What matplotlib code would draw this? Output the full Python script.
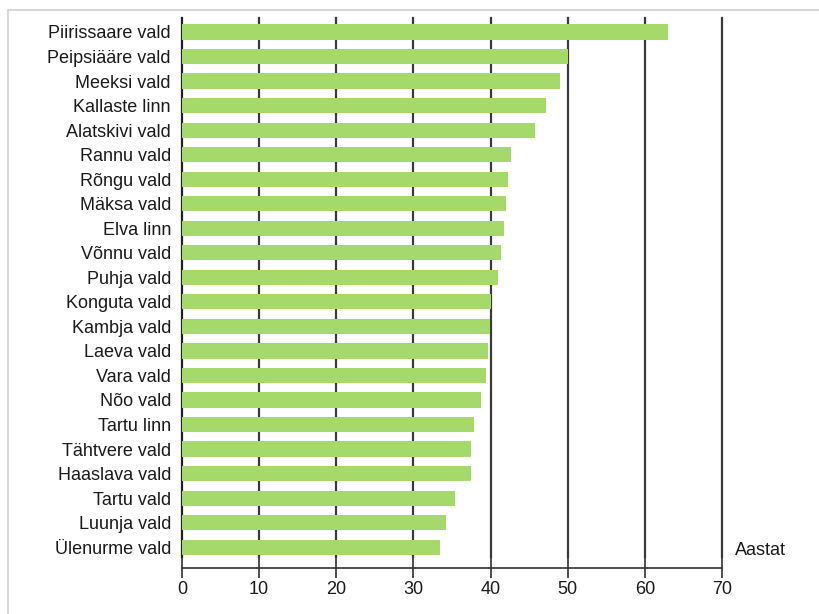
import matplotlib
matplotlib.use("Agg")
import matplotlib.pyplot as plt
from matplotlib.patches import Rectangle

plt.rcParams['font.family'] = ['Liberation Sans', 'DejaVu Sans']

categories = ["Piirissaare vald", "Peipsiääre vald", "Meeksi vald", "Kallaste linn",
              "Alatskivi vald", "Rannu vald", "Rõngu vald", "Mäksa vald", "Elva linn",
              "Võnnu vald", "Puhja vald", "Konguta vald", "Kambja vald", "Laeva vald",
              "Vara vald", "Nõo vald", "Tartu linn", "Tähtvere vald", "Haaslava vald",
              "Tartu vald", "Luunja vald", "Ülenurme vald"]
values = [63.0, 50.0, 49.0, 47.2, 45.8, 42.6, 42.2, 42.0, 41.8, 41.4, 41.0, 40.1,
          39.9, 39.7, 39.4, 38.8, 37.9, 37.4, 37.5, 35.4, 34.2, 33.4]
xticks = [0, 10, 20, 30, 40, 50, 60, 70]
unit_label = "Aastat"

fig = plt.figure(figsize=(8.19, 6.14), dpi=100)
fig.patch.set_facecolor('white')
# outer frame
fig.patches.append(Rectangle((8/819, -0.05), 1.1, 1 - 10/614 + 0.05,
                             transform=fig.transFigure, fill=False,
                             edgecolor='#d0d0d0', linewidth=1.2, clip_on=False))

ax = fig.add_axes([182/819, 1 - 557/614, 540/819, 539/614])
y = list(range(len(categories)))
ax.barh(y, values, height=0.62, color='#a5d96c', zorder=3)
ax.set_ylim(len(categories) - 1 + 0.4, -0.57)
ax.set_xlim(0, 70)
ax.set_yticks(y)
ax.set_yticklabels(categories)
ax.tick_params(axis='y', length=0, pad=8, labelsize=13, labelcolor='#1a1a1a')
ax.set_xticks(xticks)
ax.set_xticklabels([str(t) for t in xticks])
ax.tick_params(axis='x', direction='inout', length=14, width=1.2, color='#303030',
               pad=2.5, labelsize=13, labelcolor='#1a1a1a')

for t in xticks[1:]:
    ax.axvline(t, color='#3a3a3a', linewidth=1.6, zorder=1, clip_on=False)

for s in ['top', 'right']:
    ax.spines[s].set_visible(False)
ax.spines['left'].set_color('#202020')
ax.spines['left'].set_linewidth(1.6)
ax.spines['bottom'].set_position(('outward', 8))
ax.spines['bottom'].set_color('#303030')
ax.spines['bottom'].set_linewidth(1.2)

ax.text(1.024, 0.012, unit_label, transform=ax.transAxes, fontsize=13,
        color='#1a1a1a', ha='left', va='center')

fig.savefig('out.png', dpi=100)
